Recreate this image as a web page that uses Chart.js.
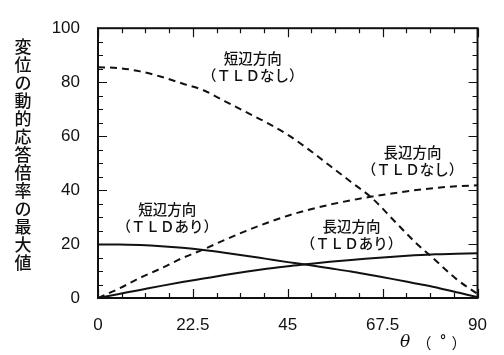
<!DOCTYPE html>
<html><head><meta charset="utf-8">
<script src="https://cdn.jsdelivr.net/npm/chart.js@4/dist/chart.umd.min.js"></script>
<style>html,body{margin:0;padding:0;background:#fff}#wrap{width:504px;height:355px}</style>
</head><body><div id="wrap"><canvas id="c" width="504" height="355"></canvas></div>
<script>
const theta = [0,5,10,15,20,25,30,35,40,45,50,55,60,65,70,75,80,85,90];
const shortNoTLD = [85.5,85.2,84,82,79.5,77,73,69,65,60.5,55,49,43,37,29,21,14,7,1.5];
const longNoTLD  = [0,3.5,7.5,11,14.8,18,21.5,24.8,27.8,30.5,32.7,34.6,36.2,37.6,38.8,39.9,40.8,41.4,41.8];
const shortTLD   = [19.8,19.8,19.6,19.2,18.6,17.8,16.8,15.7,14.5,13.3,12.2,11,9.8,8.4,7,5.5,4,2.1,0.4];
const longTLD    = [0,1.5,3,4.5,5.9,7.2,8.5,9.7,10.8,11.8,12.6,13.4,14.1,14.7,15.3,15.8,16.2,16.4,16.6];
const xTicks = [0,22.5,45,67.5,90];
const yTicks = [0,20,40,60,80,100];
const yTitle = "変位の動的応答倍率の最大値";
const xTitle = ["θ", "（", "°", "）"];
const annLines = [["短辺方向","（ＴＬＤなし）"],["長辺方向","（ＴＬＤなし）"],["短辺方向","（ＴＬＤあり）"],["長辺方向","（ＴＬＤあり）"]];
const annAt = [[36.7,85.6],[74.6,50.7],[16.4,29.6],[60.1,23.2]];

const pts = arr => theta.map((t,i)=>({x:t,y:arr[i]}));
const ds = (arr,dash) => ({data:pts(arr),borderColor:'#111',borderWidth:2,borderDash:dash,pointRadius:0,cubicInterpolationMode:'monotone',fill:false});

const deco = {
  id:'deco',
  afterDraw(chart){
    const ctx=chart.ctx, xs=chart.scales.x, ys=chart.scales.y, a=chart.chartArea;
    ctx.save();
    ctx.strokeStyle='#111'; ctx.lineWidth=2;
    ctx.strokeRect(a.left,a.top,a.right-a.left,a.bottom-a.top);
    ctx.lineWidth=1.2;
    for(let i=0;i<=16;i++){
      const v=i*5.625, px=Math.round(xs.getPixelForValue(v))+0.5, L=(i%4===0)?9:5;
      ctx.beginPath();ctx.moveTo(px,a.bottom);ctx.lineTo(px,a.bottom-L);ctx.moveTo(px,a.top);ctx.lineTo(px,a.top+L);ctx.stroke();
    }
    for(let i=0;i<=20;i++){
      const v=i*5, py=Math.round(ys.getPixelForValue(v))+0.5, L=(i%4===0)?9:5;
      ctx.beginPath();ctx.moveTo(a.left,py);ctx.lineTo(a.left+L,py);ctx.moveTo(a.right,py);ctx.lineTo(a.right-L,py);ctx.stroke();
    }
    ctx.fillStyle='#111';
    ctx.font='500 14.5px "Noto Sans CJK JP"';
    ctx.textAlign='center'; ctx.textBaseline='middle';
    annLines.forEach((lines,i)=>{
      const cx=xs.getPixelForValue(annAt[i][0]), cy=ys.getPixelForValue(annAt[i][1]);
      ctx.fillText(lines[0],cx,cy-8.5);
      ctx.fillText(lines[1],cx,cy+8.5);
    });
    ctx.font='500 17px "Noto Sans CJK JP"';
    const chars=[...yTitle];
    chars.forEach((ch,i)=>ctx.fillText(ch,23,47+i*18));
    ctx.font='italic 17px "DejaVu Serif"';
    ctx.fillText(xTitle[0],405,343);
    ctx.font='15px "Noto Sans CJK JP"';
    ctx.fillText(xTitle[1],424,343);
    ctx.fillText(xTitle[3],459,343);
    ctx.font='bold 14px "Liberation Sans"';
    ctx.fillText(xTitle[2],443,341);
    ctx.restore();
  }
};

new Chart(document.getElementById('c'),{
  type:'line',
  data:{datasets:[ds(shortNoTLD,[7,5]),ds(longNoTLD,[7,5]),ds(shortTLD,[]),ds(longTLD,[])]},
  options:{
    responsive:false,animation:false,
    layout:{padding:{left:0,right:21,top:14,bottom:0}},
    plugins:{legend:{display:false},tooltip:{enabled:false}},
    scales:{
      x:{type:'linear',min:0,max:90,
        afterBuildTicks(s){s.ticks=xTicks.map(v=>({value:v}));},
        afterFit(s){s.height=57;},
        grid:{display:false,drawTicks:false},border:{display:false},
        ticks:{padding:17,color:'#111',font:{family:'"Liberation Sans"',size:17},maxRotation:0,autoSkip:false}},
      y:{type:'linear',min:0,max:100,
        afterBuildTicks(s){s.ticks=yTicks.map(v=>({value:v}));},
        afterFit(s){s.width=98;},
        grid:{display:false,drawTicks:false},border:{display:false},
        ticks:{padding:18,color:'#111',font:{family:'"Liberation Sans"',size:17}}}
    }
  },
  plugins:[deco]
});
</script></body></html>
